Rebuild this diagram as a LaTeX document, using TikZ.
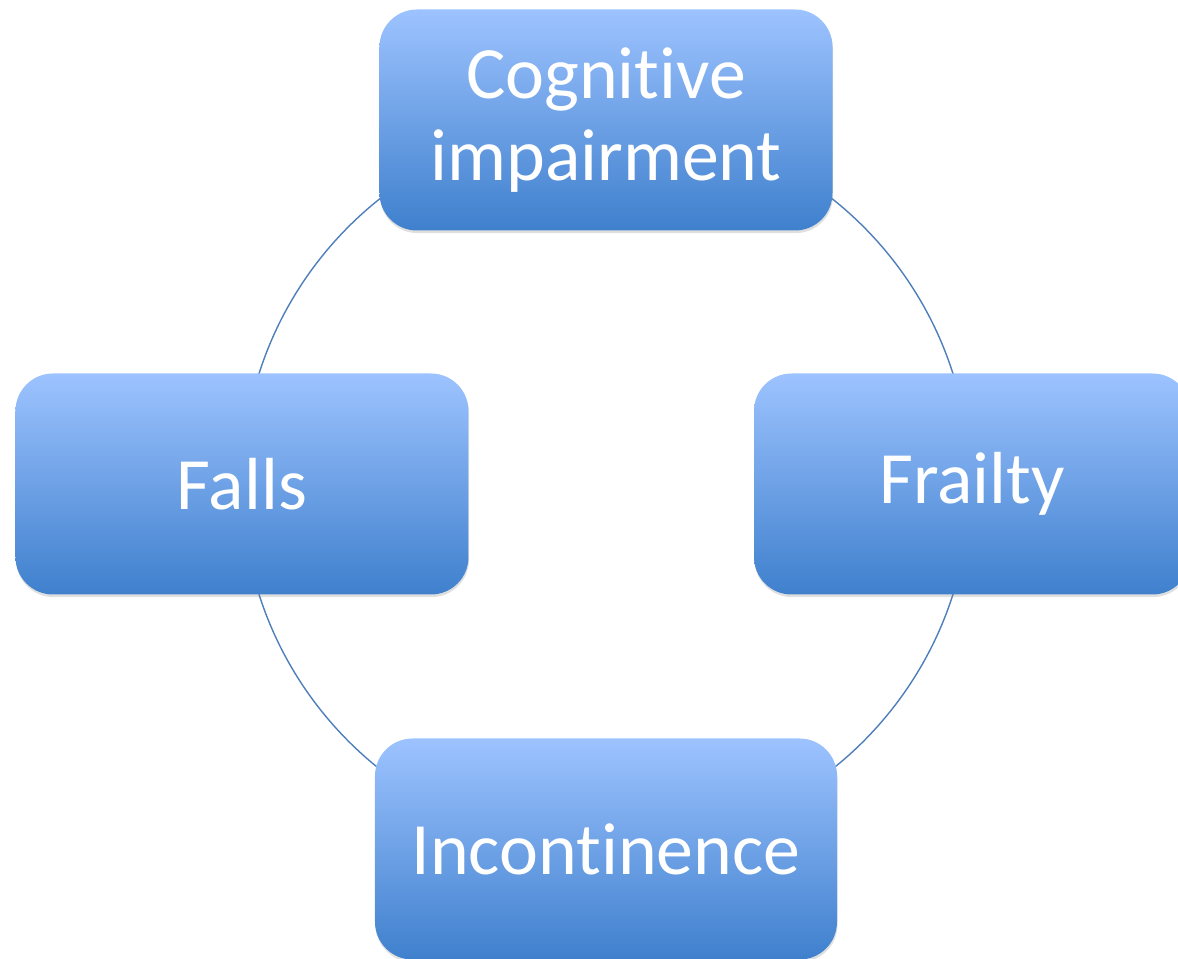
\documentclass[tikz,border=0pt]{standalone}
\usepackage{fontspec}
\setmainfont{Carlito}[RawFeature={-liga;-clig;-dlig;-calt}]
\usetikzlibrary{shadows}
\definecolor{boxtop}{HTML}{9DC3FF}
\definecolor{boxbot}{HTML}{3F80CD}
\definecolor{ringline}{HTML}{4F7FBB}

\begin{document}
\begin{tikzpicture}[
    box/.style={rounded corners=0.75cm, top color=boxtop, bottom color=boxbot,
        minimum width=9.06cm, minimum height=4.42cm, inner sep=0pt, align=center,
        text=white, font=\fontsize{42}{46.5}\selectfont,
        drop shadow={opacity=0.25, shadow xshift=0.3pt, shadow yshift=-1.5pt}}]

\useasboundingbox (-12.12,-9.5) rectangle (11.44,9.68);

\coordinate (ctr) at (0,0);
\draw [ringline, line width=0.8pt] (ctr) circle (7.28cm);

\node (cog) [box] at ([yshift=7.28cm]ctr) {Cognitive\\impairment};
\node (falls) [box] at ([xshift=-7.28cm]ctr) {Falls};
\node (frail) [box, minimum width=8.72cm] at ([xshift=7.32cm]ctr) {Frailty};
\node (incont) [box, minimum width=9.24cm] at ([yshift=-7.3cm]ctr) {Incontinence};

\end{tikzpicture}
\end{document}
